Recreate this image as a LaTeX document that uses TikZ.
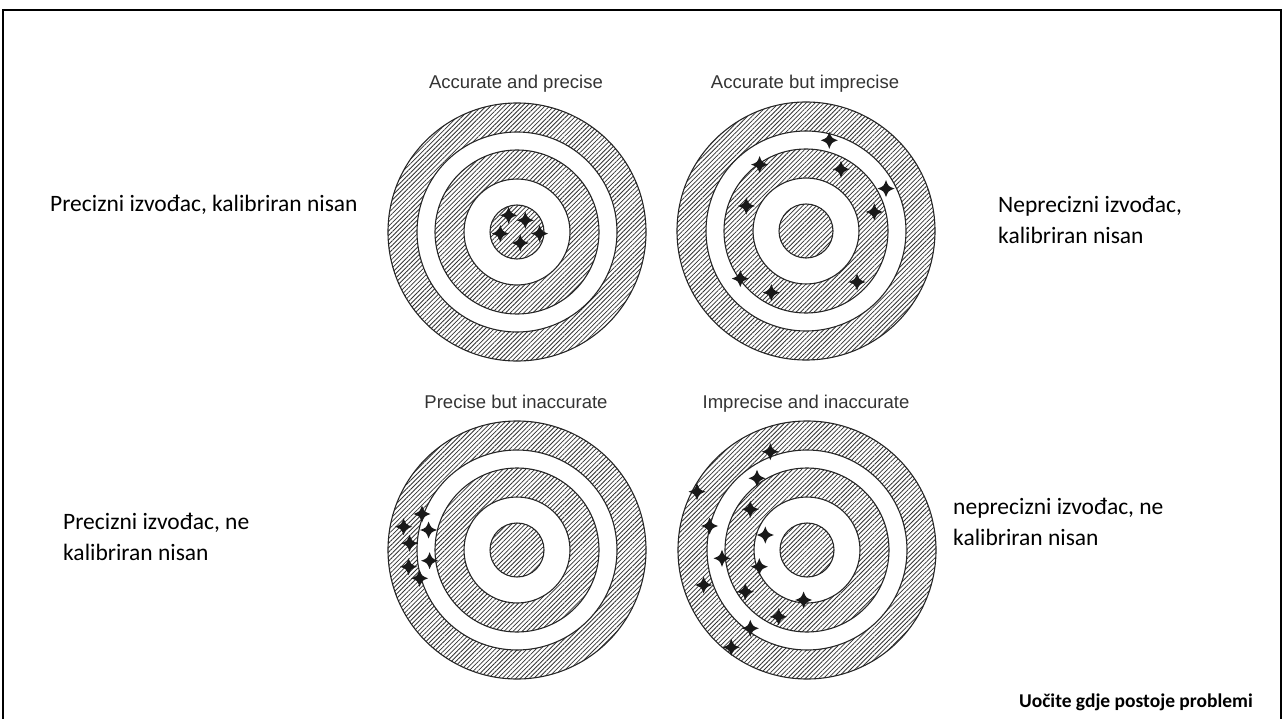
\documentclass[tikz,border=0pt]{standalone}
\usepackage{fontspec}
\setmainfont{Carlito}
\newfontfamily\titlefont{Liberation Sans}
\usetikzlibrary{patterns.meta}

\tikzset{
  hatch/.style={pattern={Lines[angle=45,distance=3.2pt,line width=0.8pt]},pattern color=black!80},
  ring/.style={draw=black!85,line width=1.1pt},
  title/.style={font=\titlefont\fontsize{18.5}{22}\selectfont,text=black!80,inner sep=0pt,anchor=base},
  lbl/.style={font=\fontsize{23.5}{28}\selectfont,inner sep=0pt,anchor=base west},
  sparkle/.pic={
    \fill[black!90] (0,-8.5) .. controls (2.3,-2.3) .. (8.5,0) .. controls (2.3,2.3) .. (0,8.5)
      .. controls (-2.3,2.3) .. (-8.5,0) .. controls (-2.3,-2.3) .. cycle;
  }
}

% one target: three hatched zones and their outlines
\newcommand{\target}[1]{%
  \path[hatch,even odd rule] (#1) circle[radius=129pt] circle[radius=100pt];
  \path[hatch,even odd rule] (#1) circle[radius=82pt] circle[radius=53pt];
  \path[hatch] (#1) circle[radius=27pt];
  \foreach \r in {129,100,82,53,27}
    \draw[ring] (#1) circle[radius=\r pt];
}

\begin{document}
\begin{tikzpicture}[x=1pt,y=-1pt]
    \useasboundingbox (0,0) rectangle (1287,719);
    \draw[line width=2.6pt] (3,719) -- (3,10) -- (1281,10) -- (1281,719);

    \coordinate (T1) at (517,232);
    \coordinate (T2) at (806,231);
    \coordinate (T3) at (517,550);
    \coordinate (T4) at (807,550);

    \target{T1}
    \target{T2}
    \target{T3}
    \target{T4}

    \node (H1) [title] at (516,89) {Accurate and precise};
    \node (H2) [title] at (805,89) {Accurate but imprecise};
    \node (H3) [title] at (516,408) {Precise but inaccurate};
    \node (H4) [title] at (806,408) {Imprecise and inaccurate};

    % hits
    \begin{scope}[shift={(T1)}]
      \foreach \x/\y in {-8.4/-16.7, 8.3/-11.7, -16.7/1.6, 22.6/1.6, 3.3/11}
        \pic at (\x,\y) {sparkle};
    \end{scope}
    \begin{scope}[shift={(T2)}]
      \foreach \x/\y in {23.3/-90.7, -46.4/-66.4, 35/-61.7, 80/-42.4, -59.7/-25,
                         68.3/-19, -65.7/47.6, 51/51, -34.7/61.6}
        \pic at (\x,\y) {sparkle};
    \end{scope}
    \begin{scope}[shift={(T3)}]
      \foreach \x/\y in {-95/-36, -113.4/-23.3, -88.4/-20, -107.4/-6.7, -87.4/10.7,
                         -108.4/16.7, -97.4/28.3}
        \pic at (\x,\y) {sparkle};
    \end{scope}
    \begin{scope}[shift={(T4)}]
      \foreach \x/\y in {-36.7/-98.3, -50/-71.7, -110/-58.3, -56.7/-40.7, -97.4/-24,
                         -41.7/-15, -85/8.3, -47.7/16.7, -103.4/35, -61.7/41.7,
                         -3.4/50, -28.4/66.7, -56.7/78.3, -75.7/97.3}
        \pic at (\x,\y) {sparkle};
    \end{scope}

    \node (L1) [lbl] at (50,212) {Precizni izvođac, kalibriran nisan};
    \node (R1a) [lbl] at (998,213) {Neprecizni izvođac,};
    \node (R1b) [lbl] at (998,244) {kalibriran nisan};
    \node (L2a) [lbl] at (63,529) {Precizni izvođac, ne};
    \node (L2b) [lbl] at (63,560) {kalibriran nisan};
    \node (R2a) [lbl] at (953,514) {neprecizni izvođac, ne};
    \node (R2b) [lbl] at (953,545) {kalibriran nisan};

    \node (Note) [font=\bfseries\fontsize{19.5}{24}\selectfont,inner sep=0pt,anchor=base east]
      at (1253,707) {Uočite gdje postoje problemi};
\end{tikzpicture}
\end{document}
